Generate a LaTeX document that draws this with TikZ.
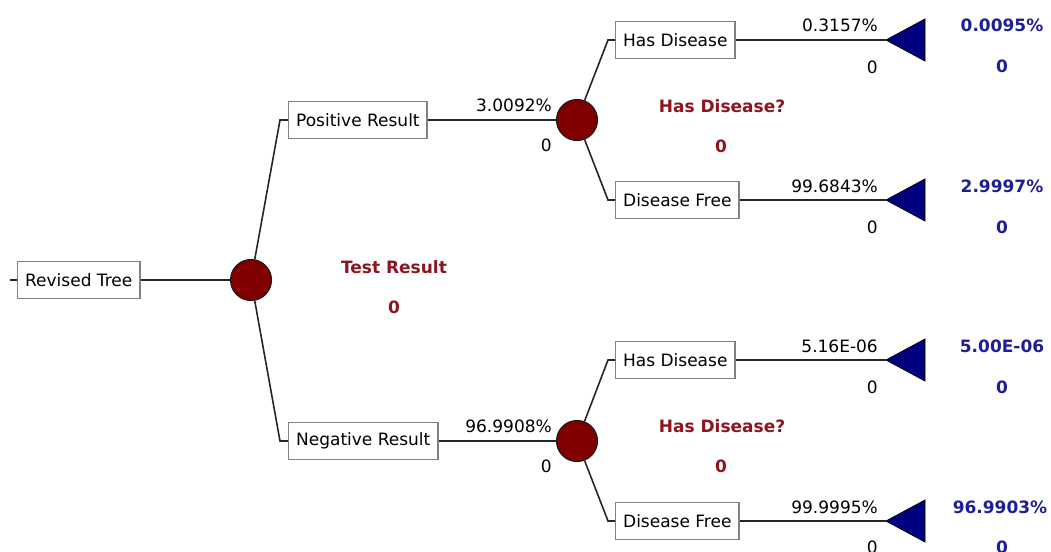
\documentclass[tikz,border=0pt]{standalone}
\usepackage{fontspec}
\setmainfont{DejaVu Sans}
\definecolor{chancered}{RGB}{128,0,0}
\definecolor{leafblue}{RGB}{0,0,128}
\definecolor{decred}{RGB}{140,22,32}
\definecolor{endblue}{RGB}{30,30,150}
\definecolor{boxgray}{RGB}{128,128,128}
\begin{document}
\begin{tikzpicture}[x=1pt,y=-1pt,
  txt/.style={font=\fontsize{17}{20}\selectfont, inner sep=0pt},
  branchbox/.style={txt, draw=boxgray, line width=1.3pt, fill=white,
    inner xsep=7.5pt, inner ysep=0pt, minimum height=37pt, anchor=west},
  chance/.style={circle, draw=black!90, fill=chancered, line width=1.1pt,
    minimum size=41pt, inner sep=0pt},
  edge/.style={line width=1.6pt, draw=black!85},
  leaf/.style={fill=leafblue, draw=black, line width=0.8pt},
  prob/.style={txt, anchor=east},
  decname/.style={txt, text=decred, font=\fontsize{17}{20}\selectfont\bfseries},
  endval/.style={txt, text=endblue, font=\fontsize{17}{20}\selectfont\bfseries}]
\useasboundingbox (0,0) rectangle (1051,551);

% decision node and chance nodes
\node[branchbox] (root) at (17,280) {Revised Tree};
\coordinate (rootin) at (10,280);
\node[chance] (c0) at (251,280) {};
\node[branchbox] (pos) at (288,120) {Positive Result};
\node[branchbox] (neg) at (288,441) {Negative Result};
\node[chance] (c1) at (577,120) {};
\node[chance] (c2) at (577,441) {};

% outcome boxes
\node[branchbox] (hd1) at (615,40) {Has Disease};
\node[branchbox] (df1) at (615,200) {Disease Free};
\node[branchbox] (hd2) at (615,360) {Has Disease};
\node[branchbox] (df2) at (615,521) {Disease Free};

% bends of the branch lines
\coordinate (k0a) at (280,120);
\coordinate (k0b) at (280,441);
\coordinate (k1a) at (608,40);
\coordinate (k1b) at (608,200);
\coordinate (k2a) at (608,360);
\coordinate (k2b) at (608,521);

% terminal triangles (tip on the left)
\foreach \n/\y in {t1/40, t2/200, t3/360, t4/521}{
  \coordinate (\n) at (886,\y);
  \draw[leaf] (\n) -- (925,\y-21) -- (925,\y+21) -- cycle;
}

% connectors
\draw[edge] (rootin) -- (root.west);
\draw[edge] (root.east) -- (c0);
\draw[edge] (c0) -- (k0a) -- (pos.west);
\draw[edge] (c0) -- (k0b) -- (neg.west);
\draw[edge] (pos.east) -- (c1);
\draw[edge] (neg.east) -- (c2);
\draw[edge] (c1) -- (k1a) -- (hd1.west);
\draw[edge] (c1) -- (k1b) -- (df1.west);
\draw[edge] (c2) -- (k2a) -- (hd2.west);
\draw[edge] (c2) -- (k2b) -- (df2.west);
\draw[edge] (hd1.east) -- (t1);
\draw[edge] (df1.east) -- (t2);
\draw[edge] (hd2.east) -- (t3);
\draw[edge] (df2.east) -- (t4);

% chance node names and values
\node[decname] (n0) at (394,267) {Test Result};
\node[decname] (v0) at (394,307) {0};
\node[decname] (n1) at (722,106) {Has Disease?};
\node[decname] (v1) at (721,146) {0};
\node[decname] (n2) at (722,426) {Has Disease?};
\node[decname] (v2) at (721,466) {0};

% branch probabilities and payoffs
\node[prob] (p1) at (552,105) {3.0092\%};
\node[prob] (q1) at (552,145) {0};
\node[prob] (p2) at (552,426) {96.9908\%};
\node[prob] (q2) at (552,466) {0};
\node[prob] (p3) at (878,25) {0.3157\%};
\node[prob] (q3) at (878,67) {0};
\node[prob] (p4) at (878,186) {99.6843\%};
\node[prob] (q4) at (878,227) {0};
\node[prob] (p5) at (878,346) {5.16E-06};
\node[prob] (q5) at (878,387) {0};
\node[prob] (p6) at (878,507) {99.9995\%};
\node[prob] (q6) at (878,547) {0};

% joint probabilities and values at the end nodes
\node[endval] (e1) at (1002,25) {0.0095\%};
\node[endval] (f1) at (1002,66) {0};
\node[endval] (e2) at (1002,186) {2.9997\%};
\node[endval] (f2) at (1002,227) {0};
\node[endval] (e3) at (1002,346) {5.00E-06};
\node[endval] (f3) at (1002,387) {0};
\node[endval] (e4) at (1000,507) {96.9903\%};
\node[endval] (f4) at (1002,547) {0};
\end{tikzpicture}
\end{document}
